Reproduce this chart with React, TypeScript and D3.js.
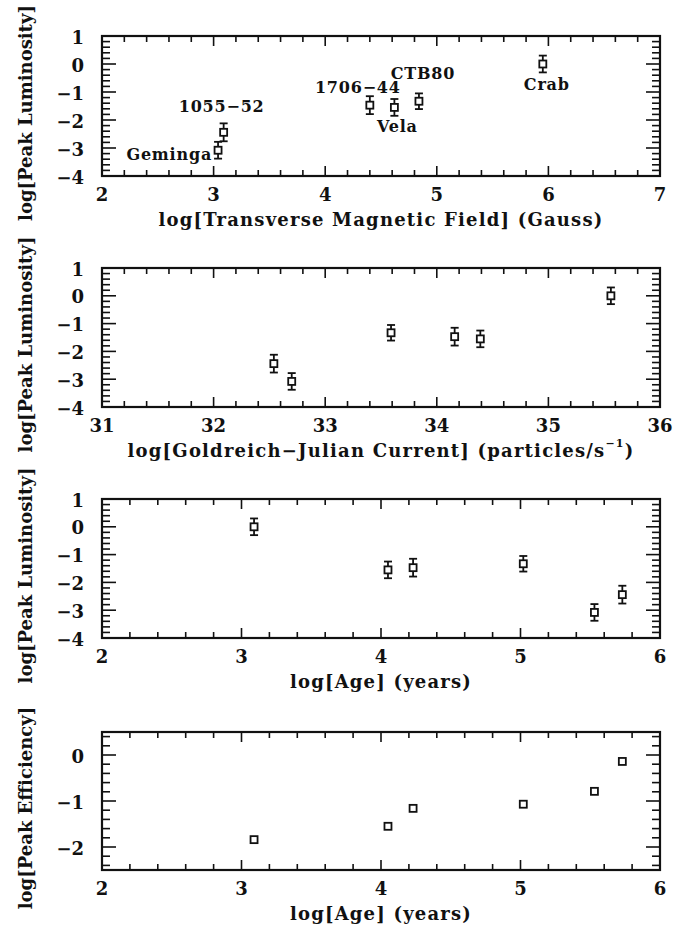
import React from "react";
import * as d3 from "d3";

// Pulsar sample, in the same order for every array below
const pulsars = ["Crab", "CTB80", "1706\u221244", "Vela", "1055\u221252", "Geminga"];
const logBField = [5.95, 4.84, 4.40, 4.62, 3.09, 3.04];
const logGJCurrent = [35.56, 33.59, 34.16, 34.39, 32.54, 32.70];
const logAge = [3.09, 5.02, 4.23, 4.05, 5.73, 5.53];
const logPeakLum = [0.0, -1.33, -1.47, -1.55, -2.44, -3.08];
const logPeakLumErr = [0.3, 0.28, 0.32, 0.3, 0.32, 0.3];
const logPeakEff = [-1.84, -1.07, -1.16, -1.55, -0.14, -0.79];

// Label placement around each pulsar in the magnetic-field panel (pixel offsets)
const labelOffsets: Record<string, [number, number, string]> = {
  Crab: [4, 20, "middle"],
  CTB80: [4, -28, "middle"],
  "1706\u221244": [-12, -18, "middle"],
  Vela: [3, 19, "middle"],
  "1055\u221252": [-2, -26, "middle"],
  Geminga: [-6, 4, "end"],
};

const W = 680;
const H = 930;
const LEFT = 102;
const RIGHT = 660;
const FONT = "'DejaVu Serif', serif";

type Panel = {
  xs: number[];
  ys: number[];
  err: number[] | null;
  xDomain: [number, number];
  yDomain: [number, number];
  xTitle: React.ReactNode;
  yTitle: string;
  top: number;
  bottom: number;
  labels: boolean;
};

const panels: Panel[] = [
  {
    xs: logBField,
    ys: logPeakLum,
    err: logPeakLumErr,
    xDomain: [2, 7],
    yDomain: [-4, 1],
    xTitle: "log[Transverse Magnetic Field] (Gauss)",
    yTitle: "log[Peak Luminosity]",
    top: 36,
    bottom: 176,
    labels: true,
  },
  {
    xs: logGJCurrent,
    ys: logPeakLum,
    err: logPeakLumErr,
    xDomain: [31, 36],
    yDomain: [-4, 1],
    xTitle: (
      <>
        log[Goldreich{"\u2212"}Julian Current] (particles/s
        <tspan dy={-7} fontSize={11}>{"\u22121"}</tspan>
        <tspan dy={7}>)</tspan>
      </>
    ),
    yTitle: "log[Peak  Luminosity]",
    top: 268,
    bottom: 407,
    labels: false,
  },
  {
    xs: logAge,
    ys: logPeakLum,
    err: logPeakLumErr,
    xDomain: [2, 6],
    yDomain: [-4, 1],
    xTitle: "log[Age] (years)",
    yTitle: "log[Peak Luminosity]",
    top: 499,
    bottom: 638,
    labels: false,
  },
  {
    xs: logAge,
    ys: logPeakEff,
    err: null,
    xDomain: [2, 6],
    yDomain: [-2.5, 0.5],
    xTitle: "log[Age] (years)",
    yTitle: "log[Peak Efficiency]",
    top: 732,
    bottom: 870,
    labels: false,
  },
];

const fmt = (v: number) => (v < 0 ? "\u2212" + Math.abs(v) : String(v));

function stepTicks(domain: [number, number], step: number) {
  const out: number[] = [];
  const start = Math.ceil(domain[0] / step - 1e-6);
  const end = Math.floor(domain[1] / step + 1e-6);
  for (let i = start; i <= end; i++) out.push(+(i * step).toFixed(4));
  return out;
}

function PanelView({ p }: { p: Panel }) {
  const x = d3.scaleLinear().domain(p.xDomain).range([LEFT, RIGHT]);
  const y = d3.scaleLinear().domain(p.yDomain).range([p.bottom, p.top]);
  const xMajor = stepTicks(p.xDomain, 1);
  const yMajor = stepTicks(p.yDomain, 1);
  const xMinor = stepTicks(p.xDomain, 0.2).filter((v) => !xMajor.includes(v));
  const yMinor = stepTicks(p.yDomain, 0.2).filter((v) => !yMajor.includes(v));
  const MAJ = 10;
  const MIN = 6;
  const midY = (p.top + p.bottom) / 2 + 7;

  return (
    <g>
      {/* tick marks on all four sides */}
      <g stroke="#111" strokeWidth={1.6}>
        {xMajor.map((v) => (
          <g key={"xM" + v}>
            <line x1={x(v)} x2={x(v)} y1={p.bottom} y2={p.bottom - MAJ} />
            <line x1={x(v)} x2={x(v)} y1={p.top} y2={p.top + MAJ} />
          </g>
        ))}
        {xMinor.map((v) => (
          <g key={"xm" + v}>
            <line x1={x(v)} x2={x(v)} y1={p.bottom} y2={p.bottom - MIN} />
            <line x1={x(v)} x2={x(v)} y1={p.top} y2={p.top + MIN} />
          </g>
        ))}
        {yMajor.map((v) => (
          <g key={"yM" + v}>
            <line x1={LEFT} x2={LEFT + MAJ + 4} y1={y(v)} y2={y(v)} />
            <line x1={RIGHT} x2={RIGHT - MAJ - 4} y1={y(v)} y2={y(v)} />
          </g>
        ))}
        {yMinor.map((v) => (
          <g key={"ym" + v}>
            <line x1={LEFT} x2={LEFT + MIN + 2} y1={y(v)} y2={y(v)} />
            <line x1={RIGHT} x2={RIGHT - MIN - 2} y1={y(v)} y2={y(v)} />
          </g>
        ))}
      </g>
      <rect
        x={LEFT}
        y={p.top}
        width={RIGHT - LEFT}
        height={p.bottom - p.top}
        fill="none"
        stroke="#111"
        strokeWidth={2.2}
      />
      {/* tick labels */}
      <g fontFamily={FONT} fontSize={18} fontWeight="bold" fill="#111">
        {xMajor.map((v) => (
          <text key={"xl" + v} x={x(v)} y={p.bottom + 18} textAnchor="middle" dominantBaseline="central">
            {fmt(v)}
          </text>
        ))}
        {yMajor.map((v) => (
          <text key={"yl" + v} x={LEFT - 18} y={y(v) + 1} textAnchor="end" dominantBaseline="central">
            {fmt(v)}
          </text>
        ))}
      </g>
      {/* axis titles */}
      <text
        x={(LEFT + RIGHT) / 2}
        y={p.bottom + 43}
        textAnchor="middle"
        dominantBaseline="central"
        fontFamily={FONT}
        fontSize={18}
        fontWeight="bold"
        letterSpacing={1.2}
        fill="#111"
      >
        {p.xTitle}
      </text>
      <text
        transform={`translate(25,${midY}) rotate(-90)`}
        textAnchor="middle"
        dominantBaseline="central"
        fontFamily={FONT}
        fontSize={18}
        fontWeight="bold"
        fill="#111"
      >
        {p.yTitle}
      </text>
      {/* data points */}
      <g stroke="#111" strokeWidth={1.8} fill="none">
        {p.xs.map((xv, i) => {
          const cx = x(xv);
          const cy = y(p.ys[i]);
          const e = p.err ? p.err[i] : 0;
          return (
            <g key={"pt" + i}>
              {p.err && (
                <>
                  <line x1={cx} x2={cx} y1={y(p.ys[i] + e)} y2={y(p.ys[i] - e)} />
                  <line x1={cx - 4} x2={cx + 4} y1={y(p.ys[i] + e)} y2={y(p.ys[i] + e)} />
                  <line x1={cx - 4} x2={cx + 4} y1={y(p.ys[i] - e)} y2={y(p.ys[i] - e)} />
                </>
              )}
              <rect x={cx - 3.5} y={cy - 3.5} width={7} height={7} fill="#fff" />
            </g>
          );
        })}
      </g>
      {p.labels && (
        <g fontFamily={FONT} fontSize={16} fontWeight="bold" letterSpacing={0.8} fill="#111">
          {p.xs.map((xv, i) => {
            const [dx, dy, anchor] = labelOffsets[pulsars[i]];
            return (
              <text
                key={"lab" + i}
                x={x(xv) + dx}
                y={y(p.ys[i]) + dy}
                textAnchor={anchor as any}
                dominantBaseline="central"
              >
                {pulsars[i]}
              </text>
            );
          })}
        </g>
      )}
    </g>
  );
}

export default function App() {
  return (
    <svg
      width={W}
      height={H}
      viewBox={`0 0 ${W} ${H}`}
      style={{ position: "absolute", left: 0, top: 0, background: "#fff" }}
    >
      <rect width={W} height={H} fill="#fff" />
      {panels.map((p, i) => (
        <PanelView key={i} p={p} />
      ))}
    </svg>
  );
}
